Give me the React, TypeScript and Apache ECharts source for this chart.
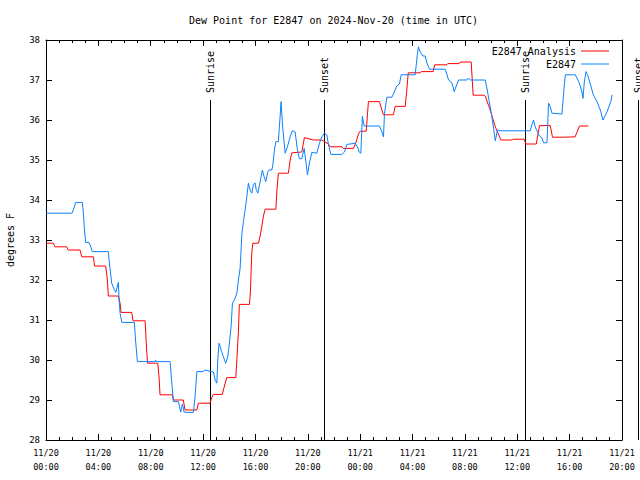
import React, { useEffect, useRef } from 'react';
import * as echarts from 'echarts';

const titleText = 'Dew Point for E2847 on 2024-Nov-20 (time in UTC)';
const yAxisName = 'degrees F';
const seriesNames = ['E2847 Analysis', 'E2847'];
const seriesColors = ['#ff0000', '#0a80ff'];
const xMinHours = 0;
const xMaxHours = 44;
const xStepHours = 4;
const yMinValue = 28;
const yMaxValue = 38;
const sunHours = [12.55, 21.27, 36.57, 45.2];
const sunLabels = ['Sunrise', 'Sunset', 'Sunrise', 'Sunset'];
const sunLineTop = 36.5;

// E2847 Analysis (hours since 11/20 00:00 UTC, degrees F)
const analysisHours = [0, 0.56, 0.69, 1.58, 1.70, 2.60, 2.73, 3.62, 3.71, 4.56, 4.69, 4.76, 5.53, 5.66, 5.73, 6.55, 6.65, 7.57, 7.70, 7.76, 8.54, 8.64, 8.71, 9.65, 9.74, 10.49, 10.62, 11.52, 11.64, 12.53, 12.65, 12.79, 13.47, 13.63, 13.81, 14.50, 14.62, 14.70, 14.77, 15.54, 15.61, 15.72, 15.80, 16.23, 16.36, 16.49, 16.61, 16.74, 17.56, 17.63, 17.75, 18.52, 18.65, 18.78, 19.54, 19.74, 20.43, 21.07, 21.58, 21.71, 22.60, 22.70, 23.49, 23.69, 23.87, 24.00, 24.46, 24.63, 25.47, 25.66, 25.78, 26.54, 26.67, 27.44, 27.55, 27.67, 28.58, 28.66, 29.58, 29.69, 30.62, 30.69, 31.57, 31.64, 32.48, 32.63, 33.44, 33.55, 33.93, 34.32, 34.75, 35.59, 35.69, 36.53, 36.66, 37.45, 37.70, 38.52, 38.69, 39.61, 39.65, 40.42, 40.75, 41.44];
const analysisValues = [32.92, 32.92, 32.83, 32.83, 32.75, 32.75, 32.58, 32.58, 32.35, 32.35, 32.0, 31.6, 31.6, 31.42, 31.19, 31.19, 30.98, 30.98, 30.18, 29.92, 29.92, 29.55, 29.13, 29.13, 29.0, 29.0, 28.75, 28.75, 28.92, 28.92, 29.05, 29.14, 29.14, 29.35, 29.56, 29.56, 30.25, 30.71, 31.39, 31.39, 31.67, 32.67, 32.92, 32.92, 33.1, 33.35, 33.6, 33.77, 33.77, 34.2, 34.67, 34.67, 35.0, 35.18, 35.2, 35.56, 35.5, 35.5, 35.4, 35.33, 35.33, 35.29, 35.29, 35.45, 35.65, 35.72, 35.72, 36.46, 36.46, 36.25, 36.13, 36.13, 36.34, 36.34, 36.7, 37.18, 37.18, 37.21, 37.21, 37.38, 37.38, 37.41, 37.41, 37.45, 37.45, 36.62, 36.62, 36.6, 36.25, 35.83, 35.5, 35.5, 35.52, 35.52, 35.4, 35.4, 35.86, 35.86, 35.57, 35.57, 35.58, 35.58, 35.85, 35.85];

// E2847 observations: [hours since 11/20 00:00 UTC, degrees F]
const observedPoints = [
  [0, 33.67], [1.99, 33.67], [2.14, 33.8], [2.27, 33.94], [2.77, 33.94], [2.85, 33.7], [2.93, 33.3], [3.03, 32.94], [3.29, 32.94], [3.40, 32.85], [3.54, 32.71], [4.76, 32.71], [4.85, 32.4], [5.02, 31.92], [5.16, 31.8], [5.33, 31.69], [5.46, 31.85], [5.53, 31.94], [5.58, 31.5], [5.66, 31.17], [5.79, 30.94], [6.75, 30.94], [6.84, 30.5], [6.98, 29.96], [8.33, 29.96], [8.37, 30.0], [8.41, 29.96], [9.48, 29.96], [9.59, 29.5], [9.73, 28.96], [10.11, 28.96], [10.29, 28.7], [10.42, 28.9], [10.55, 28.7], [10.70, 28.69], [11.26, 28.69], [11.39, 29.1], [11.52, 29.71], [12.02, 29.71], [12.11, 29.75], [12.79, 29.7], [12.92, 29.5], [13.05, 29.42], [13.12, 30.0], [13.22, 30.42], [13.38, 30.25], [13.55, 30.08], [13.73, 29.92], [13.89, 30.1], [14.01, 30.42], [14.14, 30.83], [14.24, 31.42], [14.39, 31.5], [14.58, 31.67], [14.70, 32.0], [14.83, 32.3], [14.96, 33.13], [15.08, 33.46], [15.21, 33.75], [15.34, 34.08], [15.46, 34.42], [15.59, 34.25], [15.72, 34.17], [15.84, 34.38], [15.97, 34.43], [16.05, 34.27], [16.18, 34.17], [16.28, 34.33], [16.43, 34.58], [16.53, 34.75], [16.66, 34.58], [16.79, 34.46], [16.94, 34.7], [17.04, 34.75], [17.25, 34.75], [17.33, 34.88], [17.45, 35.25], [17.56, 35.46], [17.75, 35.46], [17.96, 36.46], [18.06, 35.9], [18.27, 35.17], [18.44, 35.33], [18.65, 35.58], [18.82, 35.73], [19.03, 35.7], [19.21, 35.25], [19.36, 35.03], [19.54, 35.03], [19.72, 35.29], [19.87, 34.92], [19.97, 34.63], [20.12, 34.92], [20.31, 35.19], [20.69, 35.17], [20.89, 35.42], [21.07, 35.58], [21.27, 35.67], [21.45, 35.63], [21.58, 35.38], [21.76, 35.14], [22.60, 35.14], [22.80, 35.2], [22.98, 35.39], [23.23, 35.4], [23.62, 35.42], [23.79, 35.33], [23.92, 35.2], [24.05, 35.17], [24.17, 36.1], [24.30, 35.85], [24.43, 35.85], [25.47, 35.85], [25.66, 35.7], [25.78, 35.58], [25.86, 36.17], [26.04, 36.57], [26.42, 36.57], [26.54, 36.65], [26.80, 36.85], [27.00, 36.9], [27.13, 37.13], [28.20, 37.13], [28.38, 37.67], [28.45, 37.83], [28.58, 37.7], [28.79, 37.6], [28.97, 37.6], [29.10, 37.42], [29.30, 37.27], [30.50, 37.27], [30.75, 37.0], [31.01, 36.93], [31.18, 36.71], [31.34, 36.85], [31.51, 37.0], [32.15, 37.0], [32.28, 37.05], [32.41, 37.0], [33.55, 37.0], [33.68, 36.8], [33.86, 36.46], [34.06, 36.08], [34.19, 35.79], [34.32, 35.48], [34.49, 35.75], [34.70, 35.73], [36.99, 35.73], [37.12, 35.88], [37.24, 36.0], [37.37, 35.83], [37.50, 35.73], [37.70, 35.6], [37.89, 35.55], [38.01, 35.43], [38.27, 35.43], [38.39, 36.42], [38.52, 36.33], [38.65, 36.17], [39.41, 36.15], [39.54, 36.67], [39.67, 37.13], [40.43, 37.13], [40.68, 36.97], [40.81, 36.85], [40.94, 36.7], [41.02, 36.54], [41.12, 36.95], [41.25, 37.21], [41.37, 37.13], [41.58, 36.9], [41.81, 36.63], [42.09, 36.46], [42.34, 36.25], [42.55, 36.0], [42.85, 36.2], [43.15, 36.46], [43.24, 36.63]
];

const FONT = '"DejaVu Sans Mono", monospace';

function formatHour(h: number): string {
  const day = 20 + Math.floor(h / 24);
  const hh = Math.round(h % 24);
  return `11/${day}\n${String(hh).padStart(2, '0')}:00`;
}

export default function App() {
  const ref = useRef<HTMLDivElement>(null);
  useEffect(() => {
    if (!ref.current) return;
    const chart = echarts.init(ref.current, undefined, { renderer: 'svg' });
    const analysisData = analysisHours.map((h, i) => [h, analysisValues[i]]);
    const axisLine = { show: true, onZero: false, lineStyle: { color: '#000', width: 1 } };
    const tick = { show: true, inside: true, length: 6, lineStyle: { color: '#000', width: 1 } };
    const minor = { show: true, splitNumber: 4, length: 3, lineStyle: { color: '#000', width: 1 } };
    const option: any = {
      animation: false,
      backgroundColor: '#fff',
      title: {
        text: titleText,
        left: 184,
        top: 10,
        textStyle: { fontFamily: FONT, fontSize: 10, fontWeight: 'normal', color: '#000' },
      },
      legend: {
        data: seriesNames,
        orient: 'vertical',
        right: 26,
        top: 40,
        align: 'right',
        icon: 'rect',
        itemWidth: 28,
        itemHeight: 1,
        itemGap: 1,
        textStyle: { fontFamily: FONT, fontSize: 10, color: '#000', lineHeight: 12 },
      },
      grid: { left: 46, right: 18, top: 40, bottom: 40, containLabel: false, outerBoundsMode: 'none' },
      xAxis: [
        {
          type: 'value', min: xMinHours, max: xMaxHours, interval: xStepHours, position: 'bottom',
          axisLine, axisTick: tick, minorTick: minor, splitLine: { show: false },
          axisLabel: { formatter: formatHour, fontFamily: FONT, fontSize: 8.5, color: '#000', lineHeight: 14, margin: 6 },
        },
        {
          type: 'value', min: xMinHours, max: xMaxHours, interval: xStepHours, position: 'top',
          axisLine, axisTick: tick, minorTick: minor, splitLine: { show: false }, axisLabel: { show: false },
        },
      ],
      yAxis: [
        {
          type: 'value', min: yMinValue, max: yMaxValue, interval: 1, position: 'left',
          name: yAxisName, nameLocation: 'middle', nameGap: 31, nameRotate: 90,
          nameTextStyle: { fontFamily: FONT, fontSize: 10, color: '#000' },
          axisLine, axisTick: tick, splitLine: { show: false },
          axisLabel: { fontFamily: FONT, fontSize: 9, color: '#000', margin: 6 },
        },
        {
          type: 'value', min: yMinValue, max: yMaxValue, interval: 1, position: 'right',
          axisLine, axisTick: tick, splitLine: { show: false }, axisLabel: { show: false },
        },
      ],
      series: [
        {
          name: seriesNames[0], type: 'line', data: analysisData, symbol: 'none', showSymbol: false,
          lineStyle: { color: seriesColors[0], width: 1 }, itemStyle: { color: seriesColors[0] }, z: 3,
        },
        {
          name: seriesNames[1], type: 'line', data: observedPoints, symbol: 'none', showSymbol: false,
          lineStyle: { color: seriesColors[1], width: 1 }, itemStyle: { color: seriesColors[1] }, z: 4,
        },
        {
          name: 'sun', type: 'custom', clip: false, silent: true, z: 2,
          data: sunHours.map((h, i) => [h, sunLineTop, i]),
          renderItem: (params: any, api: any) => {
            const x = api.value(0);
            const top = api.coord([x, api.value(1)]);
            const bottom = api.coord([x, yMinValue]);
            const px = Math.round(top[0]) + 0.5;
            return {
              type: 'group',
              children: [
                { type: 'line', shape: { x1: px, y1: top[1], x2: px, y2: bottom[1] }, style: { stroke: '#000', lineWidth: 1 } },
                {
                  type: 'text', x: px, y: top[1] - 7, rotation: Math.PI / 2,
                  style: { text: sunLabels[api.value(2)], fill: '#000', font: `10px ${FONT}`, align: 'left', verticalAlign: 'middle' },
                },
              ],
            };
          },
        },
      ],
    };
    chart.setOption(option);
    return () => chart.dispose();
  }, []);
  return <div ref={ref} style={{ position: 'fixed', left: 0, top: 0, width: 640, height: 480 }} />;
}
